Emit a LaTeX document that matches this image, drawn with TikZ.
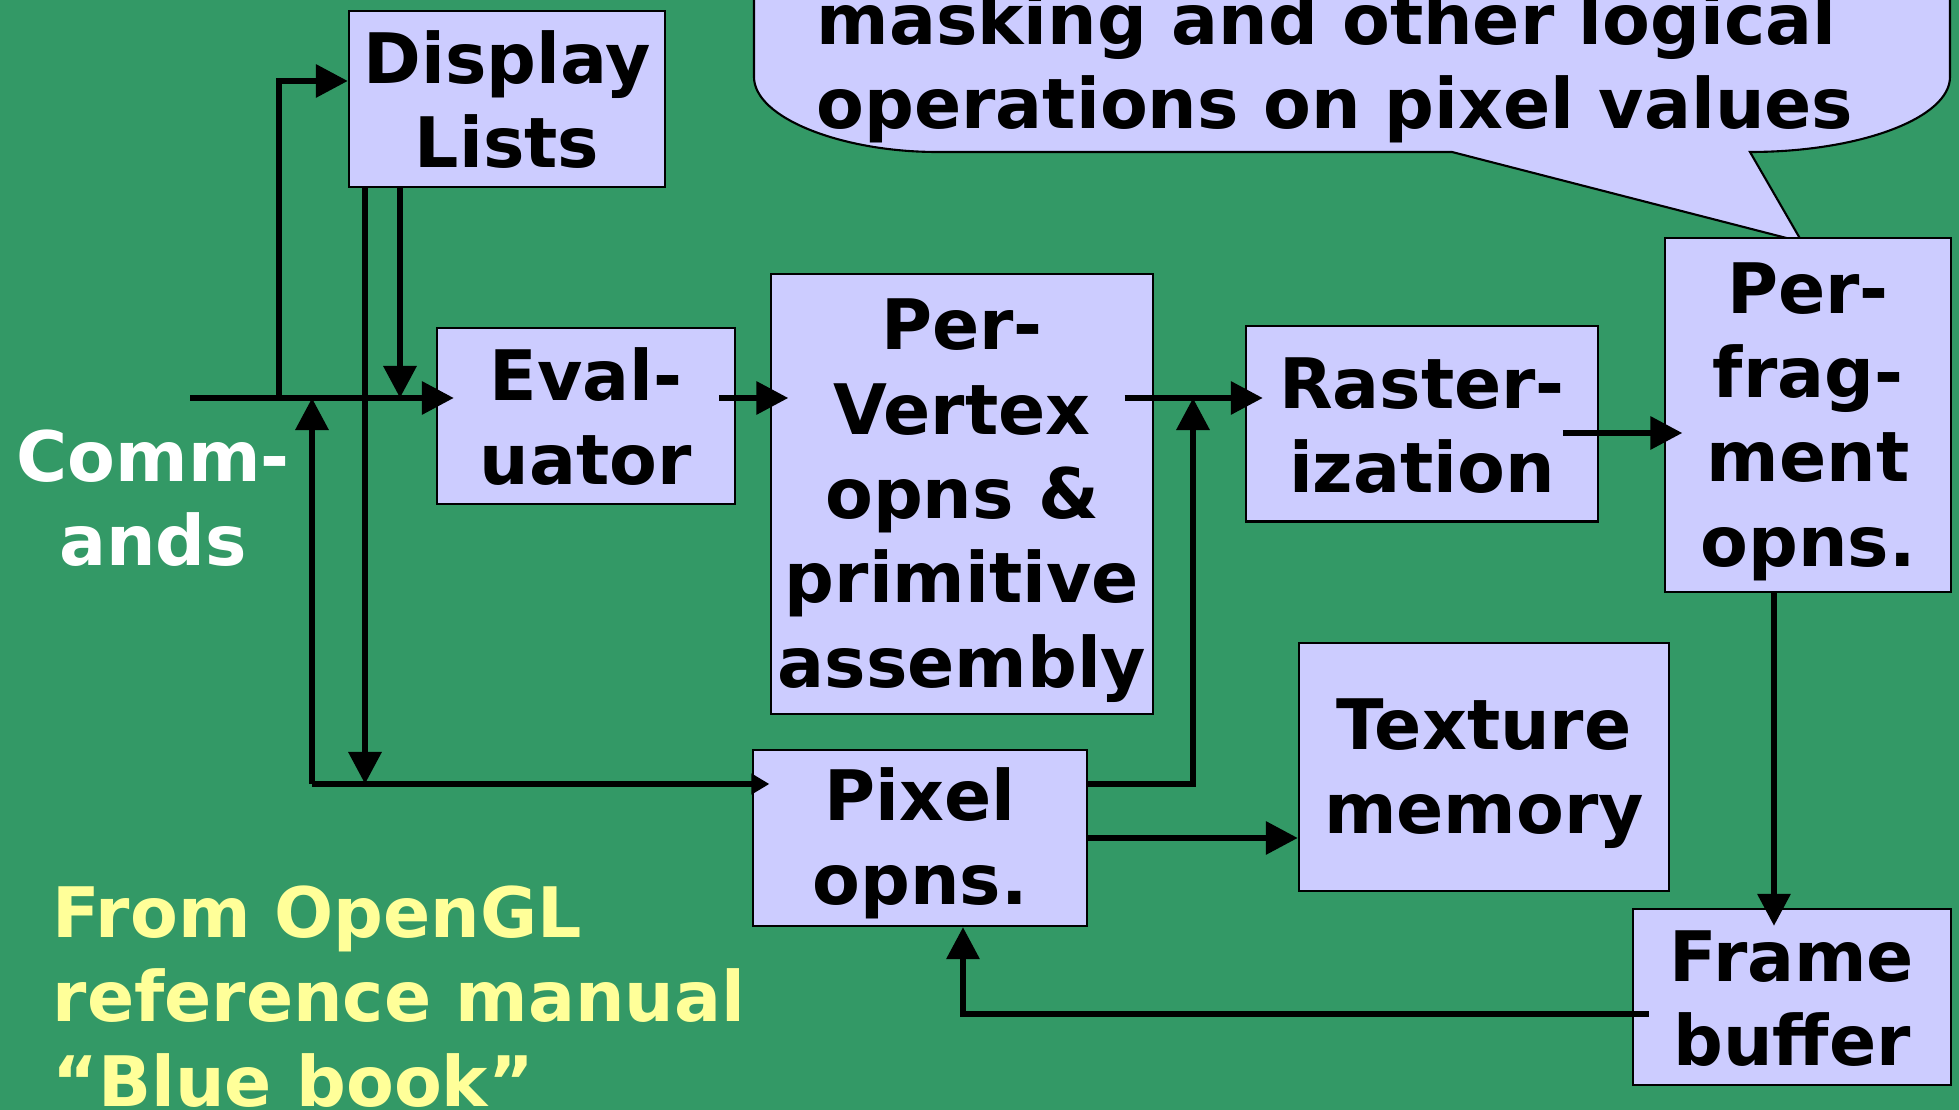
\documentclass[tikz,border=0pt]{standalone}
\usepackage{fontspec}
\setmainfont{DejaVu Sans}
\usetikzlibrary{arrows.meta}
\definecolor{bggreen}{RGB}{51,153,102}
\definecolor{boxblue}{RGB}{204,204,255}
\definecolor{noteyellow}{RGB}{255,255,153}
\newcommand{\tstrut}{\rule[-3pt]{0pt}{21.2pt}}

\begin{document}
\begin{tikzpicture}[x=0.01cm, y=-0.01cm,
    every node/.style={font=\fontsize{19.8}{24}\selectfont\bfseries},
    box/.style={draw=black, line width=0.6pt, fill=boxblue, align=center, inner sep=0pt},
    conn/.style={line width=1.8pt, -{Triangle[length=0.32cm, width=0.32cm]}},
    into/.style={shorten >=-0.18cm}]
    \fill[bggreen] (0,0) rectangle (1959,1110);
    \clip (0,0) rectangle (1959,1110);

    % callout
    \draw[fill=boxblue, line width=0.6pt] (754,-60) -- (754,77)
        .. controls (754,118) and (842,152) .. (937,152) -- (1452,152) -- (1802,242)
        -- (1750,152) .. controls (1860,152) and (1950,118) .. (1950,77) -- (1950,-60) -- cycle;
    \node[align=left, anchor=north west, inner sep=0pt] (note) at (816,-9)
        {masking and other logical\\operations on pixel values};

    \node[box, minimum width=3.16cm, minimum height=1.76cm] (dl) at (507,99) {\tstrut Display\\Lists\tstrut};
    \node[box, minimum width=2.98cm, minimum height=1.76cm] (eval) at (586,416) {\tstrut Eval-\\uator\tstrut};
    \node[box, minimum width=3.81cm, minimum height=4.39cm] (pv) at (962,494)
        {\tstrut Per-\\Vertex\\opns \&\\primitive\\assembly\tstrut};
    \node[box, minimum width=3.52cm, minimum height=1.95cm] (rast) at (1422,424) {\tstrut Raster-\\ization\tstrut};
    \node[box, minimum width=2.85cm, minimum height=3.53cm] (pf) at (1808,415)
        {\tstrut Per-\\frag-\\ment\\opns.\tstrut};
    \node[box, minimum width=3.70cm, minimum height=2.47cm] (tex) at (1484,767) {\tstrut Texture\\memory\tstrut};
    \node[box, minimum width=3.33cm, minimum height=1.76cm] (pixel) at (920,838) {\tstrut Pixel\\opns.\tstrut};
    \node[box, minimum width=3.18cm, minimum height=1.76cm] (fb) at (1792,997) {\tstrut Frame\\buffer\tstrut};

    \node[text=white, align=center] (cmds) at (153,498) {Comm-\\ands};
    \node[text=noteyellow, align=left, anchor=north west, inner sep=0pt] (src) at (52,885)
        {From OpenGL\\reference manual\\“Blue book”};

    \coordinate (c0) at (190,398);
    \coordinate (c1) at (279,398);
    \coordinate (c2) at (312,398);
    \coordinate (c3) at (312,784);
    \coordinate (c4) at (365,784);
    \coordinate (c5) at (400,398);
    \coordinate (c6) at (1193,398);
    \coordinate (c7) at (1193,784);
    \coordinate (c8) at (963,1014);
    \coordinate (c10) at (1598,433);

    \draw[conn, into] (c0) -- (c0 -| eval.west);
    \draw[conn] (c1) |- ([yshift=0.18cm]dl.west);
    \draw[conn] (dl.south -| c5) -- (c5);
    \draw[conn] (dl.south -| c4) -- (c4);
    \draw[conn] (c3) -- (c2);
    \draw[conn, -{Triangle[length=0.18cm, width=0.2cm]}, shorten >=-0.17cm] (c3) -- (c3 -| pixel.west);
    \draw[conn, into, shorten <=-0.17cm] (eval.east |- c0) -- (pv.west |- c0);
    \draw[conn, into, shorten <=-0.29cm] (pv.east |- c0) -- (rast.west |- c0);
    \draw[conn] (pixel.east |- c7) -- (c7) -- (c6);
    \draw[conn] (pixel.east) -- (pixel.east -| tex.west);
    \draw[conn, into, shorten <=-0.35cm] (c10) -- (c10 -| pf.west);
    \draw[conn, into] ([xshift=-0.34cm]pf.south) -- ([xshift=-0.34cm]pf.south |- fb.north);
    \draw[conn, shorten <=-0.17cm] (fb.west |- c8) -- (c8) -- (c8 |- pixel.south);
\end{tikzpicture}
\end{document}
